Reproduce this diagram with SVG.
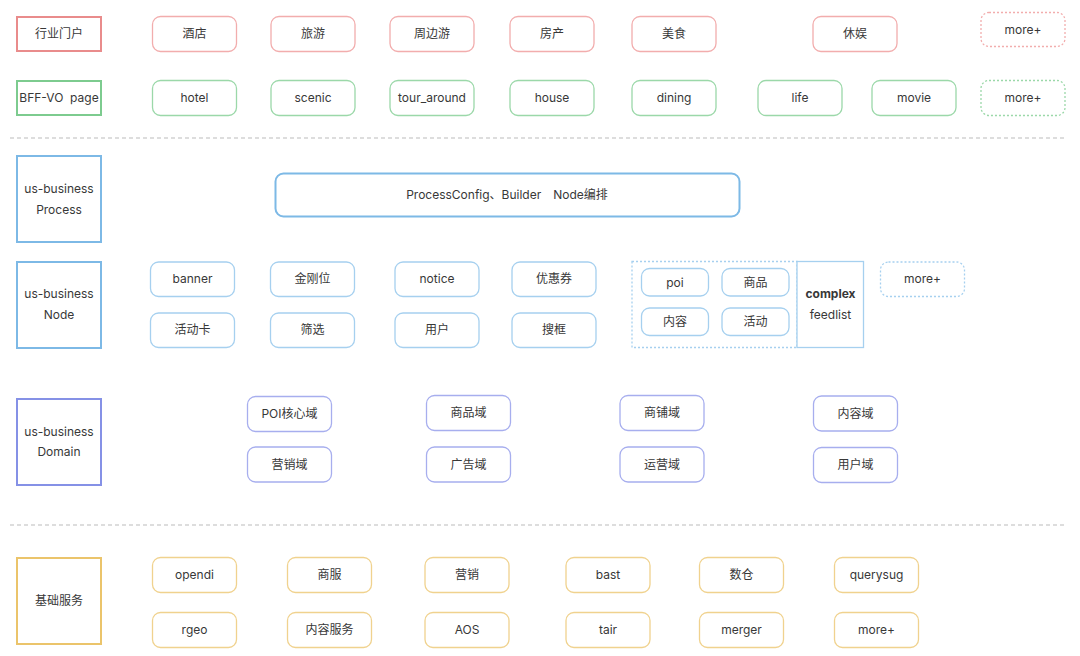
<svg xmlns="http://www.w3.org/2000/svg" width="1080" height="656" viewBox="0 0 1080 656">
<style>
text{font-family:"Inter","Noto Sans CJK SC",sans-serif;font-size:12px;fill:#383838;text-anchor:middle;dominant-baseline:central}
.b{font-weight:bold}
rect{fill:#fff}
.lr{stroke:#E98C8C;stroke-width:2}
.lg{stroke:#7DCB8F;stroke-width:2}
.lb{stroke:#7DB9E6;stroke-width:2}
.lp{stroke:#8591E6;stroke-width:2}
.lo{stroke:#EBC46B;stroke-width:2}
.nr{stroke:#F2ADAD;stroke-width:1.3}
.ng{stroke:#9BD8A9;stroke-width:1.3}
.nb{stroke:#A6D0EF;stroke-width:1.3}
.np{stroke:#A7AEEE;stroke-width:1.3}
.no{stroke:#F0D28E;stroke-width:1.3}
.d{stroke-dasharray:2 2}
.sep{stroke:#BBBBBB;stroke-width:1;stroke-dasharray:4 3;fill:none}
</style>
<rect x="0" y="0" width="1080" height="656" fill="#fff"/>
<g id="separators">
<line class="sep" x1="10" y1="138" x2="1066" y2="138"/>
<line class="sep" x1="10" y1="525" x2="1066" y2="525"/>
</g>
<g id="connectors"></g>
<!-- row 1 -->
<g id="label-portal"><rect class="lr" x="17" y="17" width="84" height="34"/><text x="59" y="33.5">行业门户</text></g>
<g id="n-hotel-cn"><rect class="nr" x="152.5" y="16.5" width="84" height="35" rx="8"/><text x="194.5" y="33.5">酒店</text></g>
<g id="n-travel"><rect class="nr" x="271" y="16.5" width="84" height="35" rx="8"/><text x="313" y="33.5">旅游</text></g>
<g id="n-around"><rect class="nr" x="390" y="16.5" width="84" height="35" rx="8"/><text x="432" y="33.5">周边游</text></g>
<g id="n-house-cn"><rect class="nr" x="510" y="16.5" width="84" height="35" rx="8"/><text x="552" y="33.5">房产</text></g>
<g id="n-food"><rect class="nr" x="632" y="16.5" width="84" height="35" rx="8"/><text x="674" y="33.5">美食</text></g>
<g id="n-leisure"><rect class="nr" x="813" y="16.5" width="84" height="35" rx="8"/><text x="855" y="33.5">休娱</text></g>
<g id="n-more1"><rect class="nr d" x="981" y="12.5" width="84" height="34" rx="8"/><text x="1023" y="29">more+</text></g>
<!-- row 2 -->
<g id="label-bff"><rect class="lg" x="17" y="81" width="84" height="34"/><text x="59" y="97.5" xml:space="preserve">BFF-VO  page</text></g>
<g id="n-hotel"><rect class="ng" x="152.5" y="80.5" width="84" height="35" rx="8"/><text x="194.5" y="97.5">hotel</text></g>
<g id="n-scenic"><rect class="ng" x="271" y="80.5" width="84" height="35" rx="8"/><text x="313" y="97.5">scenic</text></g>
<g id="n-tour"><rect class="ng" x="390" y="80.5" width="84" height="35" rx="8"/><text x="432" y="97.5">tour_around</text></g>
<g id="n-house"><rect class="ng" x="510" y="80.5" width="84" height="35" rx="8"/><text x="552" y="97.5">house</text></g>
<g id="n-dining"><rect class="ng" x="632" y="80.5" width="84" height="35" rx="8"/><text x="674" y="97.5">dining</text></g>
<g id="n-life"><rect class="ng" x="758" y="80.5" width="84" height="35" rx="8"/><text x="800" y="97.5">life</text></g>
<g id="n-movie"><rect class="ng" x="872" y="80.5" width="84" height="35" rx="8"/><text x="914" y="97.5">movie</text></g>
<g id="n-more2"><rect class="ng d" x="981" y="80.5" width="84" height="35" rx="8"/><text x="1023" y="97.5">more+</text></g>
<!-- process -->
<g id="label-process"><rect class="lb" x="17" y="156" width="84" height="86"/><text x="59" y="188.5">us-business</text><text x="59" y="209.5">Process</text></g>
<g id="n-process"><rect class="lb" x="275.5" y="173.5" width="464" height="43" rx="8"/><text x="507" y="194.5">ProcessConfig、Builder　Node编排</text></g>
<!-- node -->
<g id="label-node"><rect class="lb" x="17" y="262" width="84" height="86"/><text x="59" y="293.5">us-business</text><text x="59" y="314.5">Node</text></g>
<g id="n-banner"><rect class="nb" x="150.5" y="262" width="84" height="34.5" rx="8"/><text x="192.5" y="278.5">banner</text></g>
<g id="n-jingang"><rect class="nb" x="270.5" y="262" width="84" height="34.5" rx="8"/><text x="312.5" y="278.5">金刚位</text></g>
<g id="n-notice"><rect class="nb" x="395" y="262" width="84" height="34.5" rx="8"/><text x="437" y="278.5">notice</text></g>
<g id="n-coupon"><rect class="nb" x="512" y="262" width="84" height="34.5" rx="8"/><text x="554" y="278.5">优惠券</text></g>
<g id="n-actcard"><rect class="nb" x="150.5" y="313" width="84" height="34.5" rx="8"/><text x="192.5" y="329.5">活动卡</text></g>
<g id="n-filter"><rect class="nb" x="270.5" y="313" width="84" height="34.5" rx="8"/><text x="312.5" y="329.5">筛选</text></g>
<g id="n-user"><rect class="nb" x="395" y="313" width="84" height="34.5" rx="8"/><text x="437" y="329.5">用户</text></g>
<g id="n-search"><rect class="nb" x="512" y="313" width="84" height="34.5" rx="8"/><text x="554" y="329.5">搜框</text></g>
<g id="n-feed-group"><rect class="nb d" x="632" y="261.5" width="165" height="86" fill="none"/>
<rect class="nb" x="641.5" y="268.5" width="67" height="27.5" rx="8"/><text x="675" y="282">poi</text>
<rect class="nb" x="722" y="268.5" width="67" height="27.5" rx="8"/><text x="755.5" y="282">商品</text>
<rect class="nb" x="641.5" y="308" width="67" height="27.5" rx="8"/><text x="675" y="321.5">内容</text>
<rect class="nb" x="722" y="308" width="67" height="27.5" rx="8"/><text x="755.5" y="321.5">活动</text>
</g>
<g id="n-complex"><rect class="nb" x="797" y="261.5" width="66.5" height="86"/><text class="b" x="830.5" y="293.5">complex</text><text x="830.5" y="314.5">feedlist</text></g>
<g id="n-more3"><rect class="nb d" x="880.5" y="262" width="84" height="34.5" rx="8"/><text x="922.5" y="278.5">more+</text></g>
<!-- domain -->
<g id="label-domain"><rect class="lp" x="17" y="399" width="84" height="86"/><text x="59" y="431.5">us-business</text><text x="59" y="451.5">Domain</text></g>
<g id="d-poi"><rect class="np" x="247.5" y="396.5" width="84" height="35" rx="8"/><text x="289.5" y="413">POI核心域</text></g>
<g id="d-mkt"><rect class="np" x="247.5" y="447" width="84" height="35" rx="8"/><text x="289.5" y="464">营销域</text></g>
<g id="d-goods"><rect class="np" x="426.5" y="395.5" width="84" height="35" rx="8"/><text x="468.5" y="412">商品域</text></g>
<g id="d-ads"><rect class="np" x="426.5" y="447" width="84" height="35" rx="8"/><text x="468.5" y="464">广告域</text></g>
<g id="d-shop"><rect class="np" x="620" y="395.5" width="84" height="35" rx="8"/><text x="662" y="412">商铺域</text></g>
<g id="d-ops"><rect class="np" x="620" y="447" width="84" height="35" rx="8"/><text x="662" y="464">运营域</text></g>
<g id="d-content"><rect class="np" x="813.5" y="396" width="84" height="35" rx="8"/><text x="855.5" y="413">内容域</text></g>
<g id="d-user"><rect class="np" x="813.5" y="447.5" width="84" height="35" rx="8"/><text x="855.5" y="464.5">用户域</text></g>
<!-- base -->
<g id="label-base"><rect class="lo" x="17" y="558" width="84" height="86"/><text x="59" y="600.5">基础服务</text></g>
<g id="s-opendi"><rect class="no" x="152.5" y="557.5" width="84" height="35" rx="8"/><text x="194.5" y="574.5">opendi</text></g>
<g id="s-rgeo"><rect class="no" x="152.5" y="612.5" width="84" height="35" rx="8"/><text x="194.5" y="629.5">rgeo</text></g>
<g id="s-shangfu"><rect class="no" x="287.5" y="557.5" width="84" height="35" rx="8"/><text x="329.5" y="574.5">商服</text></g>
<g id="s-contentsvc"><rect class="no" x="287.5" y="612.5" width="84" height="35" rx="8"/><text x="329.5" y="629.5">内容服务</text></g>
<g id="s-mkt"><rect class="no" x="425" y="557.5" width="84" height="35" rx="8"/><text x="467" y="574.5">营销</text></g>
<g id="s-aos"><rect class="no" x="425" y="612.5" width="84" height="35" rx="8"/><text x="467" y="629.5">AOS</text></g>
<g id="s-bast"><rect class="no" x="566" y="557.5" width="84" height="35" rx="8"/><text x="608" y="574.5">bast</text></g>
<g id="s-tair"><rect class="no" x="566" y="612.5" width="84" height="35" rx="8"/><text x="608" y="629.5">tair</text></g>
<g id="s-dw"><rect class="no" x="699.5" y="557.5" width="84" height="35" rx="8"/><text x="741.5" y="574.5">数仓</text></g>
<g id="s-merger"><rect class="no" x="699.5" y="612.5" width="84" height="35" rx="8"/><text x="741.5" y="629.5">merger</text></g>
<g id="s-querysug"><rect class="no" x="834.5" y="557.5" width="84" height="35" rx="8"/><text x="876.5" y="574.5">querysug</text></g>
<g id="s-more"><rect class="no" x="834.5" y="612.5" width="84" height="35" rx="8"/><text x="876.5" y="629.5">more+</text></g>
</svg>
